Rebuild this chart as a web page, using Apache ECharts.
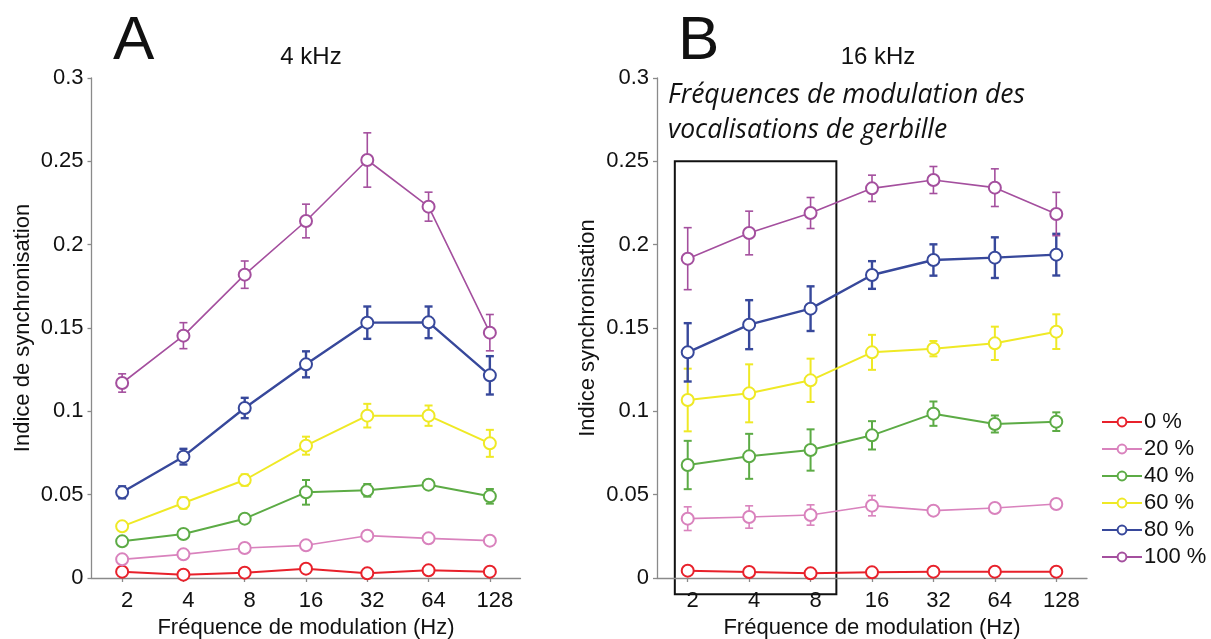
<!DOCTYPE html>
<html>
<head>
<meta charset="utf-8">
<script src="https://cdn.jsdelivr.net/npm/echarts@6/dist/echarts.min.js"></script>
<style>
html,body{margin:0;padding:0;background:#fff;}
#chart{width:1211px;height:639px;}
</style>
</head>
<body>
<div id="chart"></div>
<script>
// ---- data ----
const categories = ['2', '4', '8', '16', '32', '64', '128'];
const seriesNames = ['0 %', '20 %', '40 %', '60 %', '80 %', '100 %'];
const yTicks = [0, 0.05, 0.1, 0.15, 0.2, 0.25, 0.3];

// Panel A (4 kHz)
const a0 = [0.0038, 0.0020, 0.0032, 0.0056, 0.0028, 0.0046, 0.0038];
const a20 = [0.0112, 0.0142, 0.0180, 0.0196, 0.0254, 0.0238, 0.0224];
const a40 = [0.0220, 0.0264, 0.0356, 0.0514, 0.0526, 0.0560, 0.0490];
const a60 = [0.0310, 0.0450, 0.0588, 0.0794, 0.0974, 0.0974, 0.0808];
const a80 = [0.0514, 0.0728, 0.1020, 0.1282, 0.1532, 0.1534, 0.1216];
const a100 = [0.1170, 0.1454, 0.1820, 0.2142, 0.2508, 0.2228, 0.1472];
const aErr0 = [0.0008, 0.0008, 0.0008, 0.0008, 0.0008, 0.0008, 0.0008];
const aErr20 = [0.001, 0.001, 0.001, 0.001, 0.001, 0.001, 0.001];
const aErr40 = [0.0015, 0.0015, 0.0023, 0.0074, 0.0038, 0.0025, 0.0044];
const aErr60 = [0.0027, 0.0034, 0.0034, 0.0054, 0.0071, 0.0061, 0.0081];
const aErr80 = [0.0036, 0.0047, 0.0061, 0.0078, 0.0097, 0.0095, 0.0115];
const aErr100 = [0.0055, 0.0078, 0.0082, 0.0101, 0.0163, 0.0087, 0.0109];

// Panel B (16 kHz)
const b0 = [0.0044, 0.0036, 0.0028, 0.0034, 0.0038, 0.0038, 0.0038];
const b20 = [0.0356, 0.0366, 0.0378, 0.0434, 0.0404, 0.0420, 0.0444];
const b40 = [0.0678, 0.0730, 0.0768, 0.0856, 0.0986, 0.0924, 0.0938];
const b60 = [0.1068, 0.1108, 0.1186, 0.1354, 0.1376, 0.1408, 0.1478];
const b80 = [0.1354, 0.1520, 0.1616, 0.1818, 0.1908, 0.1922, 0.1940];
const b100 = [0.1916, 0.2070, 0.2190, 0.2338, 0.2388, 0.2342, 0.2184];
const bErr0 = [0.0008, 0.0008, 0.0008, 0.0008, 0.0008, 0.0008, 0.0008];
const bErr20 = [0.0071, 0.0067, 0.0061, 0.0061, 0.0015, 0.0020, 0.0025];
const bErr40 = [0.0145, 0.0135, 0.0124, 0.0085, 0.0073, 0.0051, 0.0056];
const bErr60 = [0.0188, 0.0174, 0.0130, 0.0105, 0.0046, 0.0100, 0.0104];
const bErr80 = [0.0175, 0.0147, 0.0134, 0.0083, 0.0094, 0.0122, 0.0125];
const bErr100 = [0.0186, 0.0131, 0.0093, 0.0079, 0.0081, 0.0113, 0.0130];

// highlighted range in panel B: categories 2..8, y from 0.25 down to below axis
const boxCats = ['2', '8'];
const boxY = [0.25, -0.0098];

// ---- styles ----
const colors = ['#e8212b', '#d982bd', '#5cab45', '#efe925', '#37489b', '#a44f9e'];
const widths = [2, 1.6, 2, 2, 2.4, 1.6];
const FONT = 'Liberation Sans, Arial, sans-serif';

const panelA = [a0, a20, a40, a60, a80, a100];
const panelAErr = [aErr0, aErr20, aErr40, aErr60, aErr80, aErr100];
const panelB = [b0, b20, b40, b60, b80, b100];
const panelBErr = [bErr0, bErr20, bErr40, bErr60, bErr80, bErr100];

function errRender(color, width) {
  return function (params, api) {
    const x = api.value(0);
    const lo = api.coord([x, api.value(1)]);
    const hi = api.coord([x, api.value(2)]);
    const cap = 4;
    const st = { stroke: color, lineWidth: width };
    return {
      type: 'group',
      children: [
        { type: 'line', shape: { x1: lo[0], y1: lo[1], x2: hi[0], y2: hi[1] }, style: st },
        { type: 'line', shape: { x1: lo[0] - cap, y1: lo[1], x2: lo[0] + cap, y2: lo[1] }, style: st },
        { type: 'line', shape: { x1: hi[0] - cap, y1: hi[1], x2: hi[0] + cap, y2: hi[1] }, style: st }
      ]
    };
  };
}

function makeSeries(values, errs, gi) {
  const out = [];
  values.forEach((vals, k) => {
    out.push({
      type: 'line',
      name: seriesNames[k],
      xAxisIndex: gi, yAxisIndex: gi,
      data: vals,
      symbol: 'circle',
      symbolSize: 12,
      lineStyle: { color: colors[k], width: widths[k] },
      itemStyle: { color: '#ffffff', borderColor: colors[k], borderWidth: 2 },
      z: 3,
      animation: false
    });
  });
  values.forEach((vals, k) => {
    out.push({
      type: 'custom',
      xAxisIndex: gi, yAxisIndex: gi,
      renderItem: errRender(colors[k], widths[k]),
      data: vals.map((v, i) => [i, v - errs[k][i], v + errs[k][i]]),
      z: 1,
      silent: true
    });
  });
  return out;
}

const axisLineStyle = { color: '#8a8a8a', width: 1.3 };
function xAxis(gi) {
  return {
    type: 'category', gridIndex: gi, data: categories, boundaryGap: true,
    name: 'Fréquence de modulation (Hz)', nameLocation: 'middle', nameGap: 34,
    nameTextStyle: { fontFamily: FONT, fontSize: 22, color: '#111' },
    axisLine: { show: true, lineStyle: axisLineStyle },
    axisTick: { show: true, alignWithLabel: true, length: 4, lineStyle: axisLineStyle },
    axisLabel: { fontFamily: FONT, fontSize: 22, color: '#111', margin: 12, padding: [0, 0, 0, 10] },
    splitLine: { show: false }
  };
}
function yAxis(gi, name) {
  return {
    type: 'value', gridIndex: gi, min: 0, max: 0.3, interval: 0.05,
    name: name, nameLocation: 'middle', nameGap: 58,
    nameTextStyle: { fontFamily: FONT, fontSize: 22, color: '#111' },
    axisLine: { show: true, lineStyle: axisLineStyle },
    axisTick: { show: true, length: 4, lineStyle: axisLineStyle },
    axisLabel: {
      fontFamily: FONT, fontSize: 22, color: '#111', margin: 8,
      formatter: v => { const t = yTicks.find(x => Math.abs(x - v) < 1e-9); return t === undefined ? '' : String(t); }
    },
    splitLine: { show: false }
  };
}

const boxSeries = {
  type: 'custom',
  xAxisIndex: 1, yAxisIndex: 1,
  silent: true,
  clip: false,
  z: 0,
  renderItem: function (params, api) {
    const p1 = api.coord([api.value(0), api.value(2)]);
    const p2 = api.coord([api.value(1), api.value(3)]);
    const band = api.size([1, 0])[0];
    const x0 = p1[0] - band * 0.21;
    const x1 = p2[0] + band * 0.42;
    return {
      type: 'rect',
      shape: { x: x0, y: p1[1], width: x1 - x0, height: p2[1] - p1[1] },
      style: { fill: 'none', stroke: '#111', lineWidth: 2 }
    };
  },
  data: [[categories.indexOf(boxCats[0]), categories.indexOf(boxCats[1]), boxY[0], boxY[1]]]
};

const option = {
  backgroundColor: '#ffffff',
  animation: false,
  title: [
    { text: 'A', left: 108, top: 6, textStyle: { fontFamily: FONT, fontSize: 62, fontWeight: 'normal', color: '#111' } },
    { text: '4 kHz', left: 306, top: 40, textAlign: 'center', textStyle: { fontFamily: FONT, fontSize: 24, fontWeight: 'normal', color: '#111' } },
    { text: 'B', left: 673, top: 6, textStyle: { fontFamily: FONT, fontSize: 62, fontWeight: 'normal', color: '#111' } },
    { text: '16 kHz', left: 873, top: 40, textAlign: 'center', textStyle: { fontFamily: FONT, fontSize: 24, fontWeight: 'normal', color: '#111' } },
    { text: 'Fréquences de modulation des\nvocalisations de gerbille', left: 663, top: 73,
      textStyle: { fontFamily: 'Open Sans, sans-serif', fontStyle: 'italic', fontSize: 26.5, fontWeight: 'normal', color: '#111', lineHeight: 35 } }
  ],
  legend: {
    data: seriesNames,
    orient: 'vertical',
    left: 1096, top: 406,
    itemWidth: 40, itemHeight: 11, itemGap: 5,
    textStyle: { fontFamily: FONT, fontSize: 22, color: '#111', padding: [0, 0, 0, -3] },
    selectedMode: false
  },
  grid: [
    { left: 91.5, top: 78, width: 429, height: 500, containLabel: false, outerBoundsMode: 'none' },
    { left: 657, top: 78, width: 430, height: 500, containLabel: false, outerBoundsMode: 'none' }
  ],
  xAxis: [xAxis(0), xAxis(1)],
  yAxis: [yAxis(0, 'Indice de synchronisation'), yAxis(1, 'Indice synchronisation')],
  series: [].concat(makeSeries(panelA, panelAErr, 0), makeSeries(panelB, panelBErr, 1), [boxSeries])
};

const chart = echarts.init(document.getElementById('chart'), null, { renderer: 'canvas' });
chart.setOption(option);
</script>
</body>
</html>
